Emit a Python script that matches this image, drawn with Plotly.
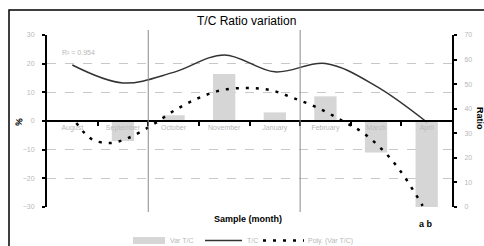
import plotly.graph_objects as go

months = ["August", "September", "October", "November", "January", "February", "March", "April"]
var_tc = [0, -7, 2, 16.4, 3, 8.6, -11, -30]
tc_ratio = [57.8, 50.5, 54.8, 61.9, 55.0, 58.4, 49.2, 34.6]
poly_x = [0.08, 0.22, 0.41, 0.75, 1.11, 1.58, 2.0, 2.49, 2.96, 3.46, 3.91, 4.37, 4.86, 5.34, 5.75, 6.15, 6.48, 6.78, 6.92]
poly_y = [-0.7, -3.8, -6.6, -7.7, -5.9, -1.4, 3.5, 8.0, 10.8, 11.5, 10.8, 8.0, 4.5, 0.0, -4.2, -10.5, -17.4, -25.5, -29.6]
left_ticks = [-30, -20, -10, 0, 10, 20, 30]
right_ticks = [0, 10, 20, 30, 40, 50, 60, 70]
legend_names = ["Var T/C", "T/C", "Poly. (Var T/C)"]

idx = list(range(len(months)))
GRAY_TXT = "#b8b8b8"
FONT = "Liberation Sans, Arial, sans-serif"
BAR_COLOR = "#d6d6d6"
LINE_COLOR = "#333333"
POLY_DASH = "3px,7px"

fig = go.Figure()
fig.add_trace(go.Bar(x=idx, y=var_tc, name=legend_names[0], marker=dict(color=BAR_COLOR, line=dict(width=0)),
                     width=0.44))
fig.add_trace(go.Scatter(x=idx, y=tc_ratio, name=legend_names[1], yaxis="y2", mode="lines",
                         line=dict(color=LINE_COLOR, width=1.5, shape="spline")))
fig.add_trace(go.Scatter(x=poly_x, y=poly_y, name=legend_names[2], mode="lines",
                         line=dict(color="black", width=2.5, dash=POLY_DASH, shape="spline")))

# plot area pixel geometry: x 47..452, y 35..207
def px_x(p):
    return (p - 47) / 405.0

def px_y(p):
    return (207 - p) / 172.0

shapes = [
    dict(type="line", xref="x", yref="paper", x0=1.5, x1=1.5, y0=px_y(212), y1=px_y(30),
         line=dict(color="#8a8a8a", width=1)),
    dict(type="line", xref="x", yref="paper", x0=4.5, x1=4.5, y0=px_y(212), y1=px_y(30),
         line=dict(color="#8a8a8a", width=1)),
    dict(type="rect", xref="paper", yref="paper", x0=px_x(9), x1=px_x(490), y0=px_y(252), y1=px_y(10),
         line=dict(color="black", width=1.5)),
    # manual legend symbols
    dict(type="rect", xref="paper", yref="paper", x0=px_x(133), x1=px_x(165), y0=px_y(244), y1=px_y(237),
         fillcolor=BAR_COLOR, line=dict(width=0)),
    dict(type="line", xref="paper", yref="paper", x0=px_x(205), x1=px_x(242), y0=px_y(240.5), y1=px_y(240.5),
         line=dict(color=LINE_COLOR, width=1.5)),
    dict(type="line", xref="paper", yref="paper", x0=px_x(263), x1=px_x(304), y0=px_y(240.5), y1=px_y(240.5),
         line=dict(color="black", width=2.5, dash=POLY_DASH)),
]

def ann(text, x, y, size=7, color=GRAY_TXT, angle=0, xanchor="center"):
    return dict(text=text, x=px_x(x), y=px_y(y), xref="paper", yref="paper", showarrow=False,
                xanchor=xanchor, yanchor="middle", textangle=angle,
                font=dict(size=size, color=color, family=FONT))

annotations = [
    ann("R² = 0.954", 78, 53),
    ann("<b>%</b>", 19, 122, size=9, color="black", angle=-80),
    ann("<b>Ratio</b>", 480, 118, size=9, color="black", angle=90),
    ann("<b>Sample (month)</b>", 248, 219, size=9, color="black"),
    ann("<b>a b</b>", 426, 224, size=9, color="black"),
    ann("T/C Ratio variation", 246, 21, size=12, color="black"),
    # manual legend labels
    ann(legend_names[0], 168, 240.5, xanchor="left"),
    ann(legend_names[1], 245, 240.5, xanchor="left"),
    ann(legend_names[2], 306, 240.5, xanchor="left"),
]

fig.update_layout(
    width=484, height=246, autosize=False,
    margin=dict(l=47, r=32, t=35, b=39, pad=0),
    paper_bgcolor="white", plot_bgcolor="white",
    font=dict(family=FONT, size=7, color=GRAY_TXT),
    showlegend=False,
    bargap=0.5,
    xaxis=dict(range=[-0.5, 7.5], tickvals=idx, ticktext=months, ticks="", showgrid=False,
               zeroline=False, showline=True, linecolor="black", linewidth=2,
               anchor="free", position=0.5, tickfont=dict(size=7, color=GRAY_TXT),
               minor=dict(tickvals=[0.5, 1.5, 2.5, 3.5, 4.5, 5.5, 6.5], ticks="outside", ticklen=4,
                          tickcolor="black", tickwidth=1.5),
               automargin=False),
    yaxis=dict(range=[-30, 30], tickvals=left_ticks, ticks="outside", ticklen=3, tickwidth=1.5,
               tickcolor="black", showline=True, linecolor="black", linewidth=2,
               showgrid=True, gridcolor="#c8c8c8", griddash="dash", gridwidth=1,
               zeroline=False, tickfont=dict(size=7, color=GRAY_TXT), ticklabelstandoff=6,
               automargin=False),
    yaxis2=dict(range=[0, 70], tickvals=right_ticks, overlaying="y", side="right", ticks="outside",
                ticklen=3, tickwidth=1.5, tickcolor="black", showline=True, linecolor="black",
                linewidth=2, showgrid=False, zeroline=False, tickfont=dict(size=7, color=GRAY_TXT),
                ticklabelstandoff=6, automargin=False),
    shapes=shapes,
    annotations=annotations,
)

fig.write_html("out.html", config={"displayModeBar": False},
               post_script="document.body.style.margin='0';")
